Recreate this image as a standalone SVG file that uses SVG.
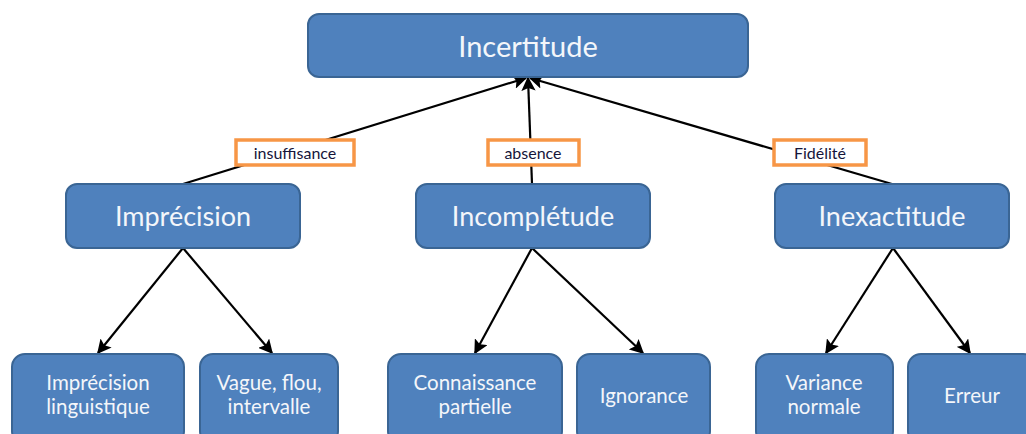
<svg xmlns="http://www.w3.org/2000/svg" width="1026" height="434" viewBox="0 0 1026 434">
<defs>
<style>
.box{fill:#4F81BD;stroke:#3A6594;stroke-width:2}
.t{font-family:Lato,"Open Sans",sans-serif;fill:#F4F6FA;text-anchor:middle}
.lbl{fill:#fff;stroke:#F79646;stroke-width:3.5}
.lt{font-family:Lato,"Open Sans",sans-serif;fill:#15153a;text-anchor:middle;font-size:16px}
.c{stroke:#000;stroke-width:2.2;fill:none}
</style>
<marker id="ah" viewBox="0 0 10 10" refX="9" refY="5" markerWidth="6.5" markerHeight="6.5" orient="auto" markerUnits="strokeWidth">
<path d="M0,0 L10,5 L0,10 L2,5 z" fill="#000"/>
</marker>
</defs>
<rect width="1026" height="434" fill="#fff"/>
<g id="connectors">
<line class="c" x1="183" y1="184" x2="526" y2="78" marker-end="url(#ah)"/>
<line class="c" x1="532" y1="184" x2="528" y2="78" marker-end="url(#ah)"/>
<line class="c" x1="892" y1="184" x2="530" y2="78" marker-end="url(#ah)"/>
<line class="c" x1="183" y1="248" x2="98" y2="353" marker-end="url(#ah)"/>
<line class="c" x1="183" y1="248" x2="272" y2="353" marker-end="url(#ah)"/>
<line class="c" x1="532" y1="248" x2="475" y2="353" marker-end="url(#ah)"/>
<line class="c" x1="532" y1="248" x2="643" y2="353" marker-end="url(#ah)"/>
<line class="c" x1="893" y1="248" x2="826" y2="353" marker-end="url(#ah)"/>
<line class="c" x1="893" y1="248" x2="970" y2="353" marker-end="url(#ah)"/>
</g>
<g id="lbl-insuffisance"><rect class="lbl" x="236" y="140" width="118" height="25"/><text class="lt" x="295" y="158.5">insuffisance</text></g>
<g id="lbl-absence"><rect class="lbl" x="488" y="140" width="91" height="25"/><text class="lt" x="533" y="158.5">absence</text></g>
<g id="lbl-fidelite"><rect class="lbl" x="774" y="140" width="92" height="25"/><text class="lt" x="820" y="158.5">Fidélité</text></g>
<g id="n-incertitude"><rect class="box" x="308" y="14" width="440" height="63" rx="11"/><text class="t" x="528" y="57" font-size="29">Incertitude</text></g>
<g id="n-imprecision"><rect class="box" x="66" y="184" width="234" height="64" rx="11"/><text class="t" x="183" y="226" font-size="27">Imprécision</text></g>
<g id="n-incompletude"><rect class="box" x="416" y="184" width="234" height="64" rx="11"/><text class="t" x="533" y="226" font-size="27">Incomplétude</text></g>
<g id="n-inexactitude"><rect class="box" x="775" y="184" width="234" height="64" rx="11"/><text class="t" x="892" y="226" font-size="27">Inexactitude</text></g>
<g id="n-imp-ling"><rect class="box" x="12" y="354" width="172" height="90" rx="13"/><text class="t" x="98" y="390" font-size="20.5">Imprécision</text><text class="t" x="98" y="414" font-size="20.5">linguistique</text></g>
<g id="n-vague"><rect class="box" x="200" y="354" width="138" height="90" rx="13"/><text class="t" x="269" y="390" font-size="20.5">Vague, flou,</text><text class="t" x="269" y="414" font-size="20.5">intervalle</text></g>
<g id="n-connaissance"><rect class="box" x="388" y="354" width="174" height="90" rx="13"/><text class="t" x="475" y="390" font-size="20.5">Connaissance</text><text class="t" x="475" y="414" font-size="20.5">partielle</text></g>
<g id="n-ignorance"><rect class="box" x="577" y="354" width="133" height="90" rx="13"/><text class="t" x="644" y="403" font-size="20.5">Ignorance</text></g>
<g id="n-variance"><rect class="box" x="756" y="354" width="137" height="90" rx="13"/><text class="t" x="824" y="390" font-size="20.5">Variance</text><text class="t" x="824" y="414" font-size="20.5">normale</text></g>
<g id="n-erreur"><rect class="box" x="908" y="354" width="128" height="90" rx="13"/><text class="t" x="972" y="403" font-size="20.5">Erreur</text></g>
</svg>
